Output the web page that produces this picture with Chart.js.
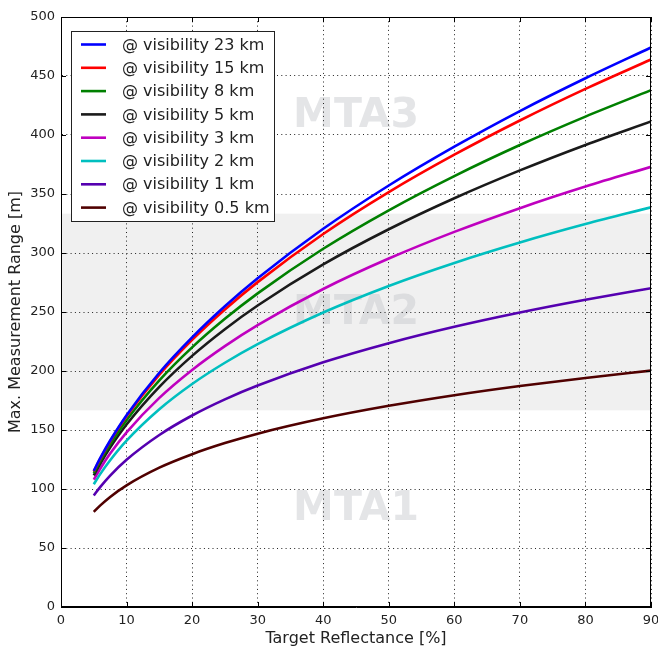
<!DOCTYPE html>
<html>
<head>
<meta charset="utf-8">
<script src="https://cdn.jsdelivr.net/npm/chart.js@4.4.1/dist/chart.umd.min.js"></script>
<style>
html,body{margin:0;padding:0;background:#fff;}
#wrap{width:658px;height:648px;position:relative;}
</style>
</head>
<body>
<div id="wrap"><canvas id="c"></canvas></div>
<script>
// Target reflectance [%]
const reflectance = [5, 6, 7.5, 10, 15, 20, 25, 30, 40, 50, 60, 70, 80, 90];
// Max. measurement range [m] per visibility
const vis23km  = [115.4, 126.3, 141.1, 162.6, 198.5, 228.5, 254.9, 278.6, 320.5, 357.2, 390.1, 420.3, 448.1, 474.2];
const vis15km  = [115.0, 125.8, 140.4, 161.6, 196.9, 226.4, 252.2, 275.3, 316.1, 351.6, 383.3, 412.3, 439.1, 464.0];
const vis8km   = [113.4, 123.9, 137.9, 158.3, 192.0, 220.0, 244.2, 265.8, 303.6, 336.2, 365.2, 391.5, 415.6, 438.0];
const vis5km   = [111.5, 121.6, 135.1, 154.6, 186.5, 212.8, 235.4, 255.5, 290.3, 320.1, 346.4, 370.0, 391.6, 411.5];
const vis3km   = [108.0, 117.4, 130.0, 148.0, 177.2, 200.9, 221.1, 238.9, 269.5, 295.3, 317.9, 338.0, 356.3, 373.0];
const vis2km   = [104.0, 112.8, 124.4, 141.0, 167.6, 189.0, 207.0, 222.8, 249.6, 272.1, 291.6, 308.9, 324.5, 338.7];
const vis1km   = [94.5, 101.8, 111.4, 124.8, 145.8, 162.3, 176.0, 187.7, 207.4, 223.6, 237.5, 249.6, 260.4, 270.2];
const vis05km  = [80.6, 86.1, 93.3, 103.1, 118.1, 129.5, 138.9, 146.9, 159.9, 170.5, 179.5, 187.3, 194.1, 200.3];

const seriesLabels = ['@ visibility 23 km','@ visibility 15 km','@ visibility 8 km','@ visibility 5 km',
                      '@ visibility 3 km','@ visibility 2 km','@ visibility 1 km','@ visibility 0.5 km'];
const seriesValues = [vis23km, vis15km, vis8km, vis5km, vis3km, vis2km, vis1km, vis05km];
const seriesColors = ['#0000ff','#ff0000','#008000','#1a1a1a','#bf00bf','#00bfbf','#5500b0','#500000'];

// Zones (MTA bands) and axis ticks
const zoneLabels = ['MTA1','MTA2','MTA3'];
const zoneBounds = [0, 500/3, 1000/3, 500];
const xTicks = [0,10,20,30,40,50,60,70,80,90];
const yTicks = [0,50,100,150,200,250,300,350,400,450,500];

const FONT = "'DejaVu Sans', sans-serif";

const datasets = seriesValues.map((vals, i) => ({
  label: seriesLabels[i],
  data: vals.map((v, j) => ({x: reflectance[j], y: v})),
  borderColor: seriesColors[i],
  backgroundColor: seriesColors[i],
  borderWidth: 2.6,
  pointRadius: 0,
  fill: false,
  cubicInterpolationMode: 'monotone'
}));

const backgroundPlugin = {
  id: 'bg',
  beforeDraw(chart) {
    const {ctx, chartArea: a, scales: {x, y}} = chart;
    ctx.save();
    ctx.fillStyle = '#ffffff';
    ctx.fillRect(0, 0, chart.width, chart.height);
    const yTop = y.getPixelForValue(zoneBounds[2]);
    const yBot = y.getPixelForValue(zoneBounds[1]);
    ctx.fillStyle = '#f0f0f0';
    ctx.fillRect(a.left, yTop, a.right - a.left, yBot - yTop);
    ctx.font = "bold 41px " + FONT;
    ctx.fillStyle = 'rgba(195,197,202,0.45)';
    ctx.textAlign = 'center';
    ctx.textBaseline = 'middle';
    const xc = x.getPixelForValue(45);
    for (let i = 0; i < zoneLabels.length; i++) {
      const yc = y.getPixelForValue((zoneBounds[i] + zoneBounds[i+1]) / 2);
      ctx.fillText(zoneLabels[i], xc, yc + 1);
    }
    ctx.restore();
  }
};

const framePlugin = {
  id: 'frame',
  afterDatasetsDraw(chart) {
    const {ctx, chartArea: a, scales: {x, y}} = chart;
    ctx.save();
    ctx.strokeStyle = '#000';
    ctx.lineWidth = 1;
    ctx.setLineDash([]);
    ctx.strokeRect(a.left + 0.5, a.top + 0.5, a.right - a.left - 1, a.bottom - a.top - 1);
    const L = 5;
    ctx.beginPath();
    xTicks.forEach(t => {
      const px = Math.round(x.getPixelForValue(t)) + 0.5;
      ctx.moveTo(px, a.bottom); ctx.lineTo(px, a.bottom - L);
      ctx.moveTo(px, a.top); ctx.lineTo(px, a.top + L);
    });
    yTicks.forEach(t => {
      const py = Math.round(y.getPixelForValue(t)) + 0.5;
      ctx.moveTo(a.left, py); ctx.lineTo(a.left + L, py);
      ctx.moveTo(a.right, py); ctx.lineTo(a.right - L, py);
    });
    ctx.stroke();

    // legend
    const bx = 71, by = 31, bw = 203, bh = 190;
    ctx.fillStyle = '#ffffff';
    ctx.fillRect(bx, by, bw, bh);
    ctx.strokeStyle = '#222';
    ctx.strokeRect(bx + 0.5, by + 0.5, bw, bh);
    ctx.font = "16px " + FONT;
    ctx.textAlign = 'left';
    ctx.textBaseline = 'middle';
    chart.data.datasets.forEach((ds, i) => {
      const yy = 44.5 + i * 23.3;
      ctx.strokeStyle = ds.borderColor;
      ctx.lineWidth = 2.6;
      ctx.beginPath();
      ctx.moveTo(81, yy); ctx.lineTo(106, yy);
      ctx.stroke();
      ctx.fillStyle = '#222';
      ctx.fillText(ds.label, 122, yy + 1);
    });
    ctx.restore();
  }
};

new Chart(document.getElementById('c'), {
  type: 'line',
  data: { datasets },
  options: {
    responsive: true,
    maintainAspectRatio: false,
    animation: false,
    devicePixelRatio: 1,
    layout: { padding: { top: 17, right: 7, left: 0, bottom: 0 } },
    plugins: { legend: { display: false }, tooltip: { enabled: false } },
    scales: {
      x: {
        type: 'linear',
        min: 0, max: 90,
        afterFit(s) { s.height = 41; s.paddingLeft = 0; s.paddingRight = 0; },
        afterBuildTicks(s) { s.ticks = xTicks.map(v => ({value: v})); },
        ticks: { color: '#222', font: { family: FONT, size: 13 }, padding: 6, maxRotation: 0 },
        grid: { color: '#222', lineWidth: 1, drawTicks: false },
        border: { display: true, color: '#000', dash: [1, 3.3], width: 1 },
        title: { display: true, text: 'Target Reflectance [%]', color: '#222',
                 font: { family: FONT, size: 16 }, padding: { top: 0, bottom: 0 } }
      },
      y: {
        type: 'linear',
        min: 0, max: 500,
        afterFit(s) { s.width = 61; s.paddingTop = 0; s.paddingBottom = 0; },
        afterBuildTicks(s) { s.ticks = yTicks.map(v => ({value: v})); },
        ticks: { color: '#222', font: { family: FONT, size: 13 }, padding: 6 },
        grid: { color: '#222', lineWidth: 1, drawTicks: false },
        border: { display: true, color: '#000', dash: [1, 3.3], width: 1 },
        title: { display: true, text: 'Max. Measurement Range [m]', color: '#222',
                 font: { family: FONT, size: 16 }, padding: { top: 6, bottom: 0 } }
      }
    }
  },
  plugins: [backgroundPlugin, framePlugin]
});
</script>
</body>
</html>
